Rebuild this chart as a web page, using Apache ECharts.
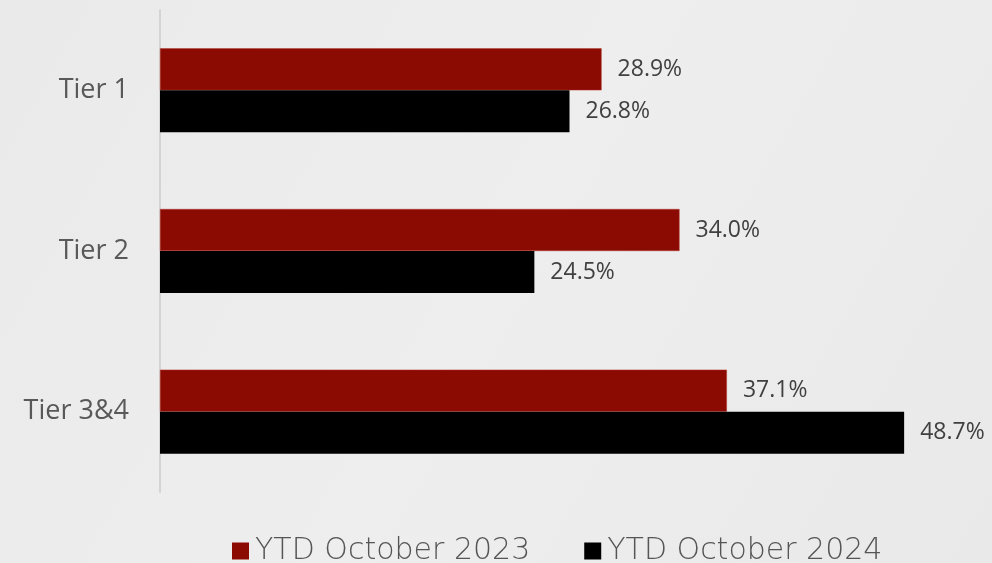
<!DOCTYPE html>
<html>
<head>
<meta charset="utf-8">
<script src="https://cdn.jsdelivr.net/npm/echarts@6/dist/echarts.min.js"></script>
<style>
html,body{margin:0;padding:0;background:#ececec;}
#chart{width:992px;height:563px;}
</style>
</head>
<body>
<div id="chart"></div>
<script>
const categories = ['Tier 1', 'Tier 2', 'Tier 3&4'];
const seriesNames = ['YTD October 2023', 'YTD October 2024'];
const values2023 = [28.9, 34.0, 37.1];
const values2024 = [26.8, 24.5, 48.7];

const chart = echarts.init(document.getElementById('chart'));
const labelStyle = {
  show: true, position: 'right', distance: 16,
  formatter: p => p.value.toFixed(1) + '%',
  fontFamily: 'Open Sans', fontSize: 23, color: '#404040'
};
chart.setOption({
  backgroundColor: {
    type: 'linear', x: 0, y: 0, x2: 1, y2: 1,
    colorStops: [{offset: 0, color: '#eaeaea'}, {offset: 0.5, color: '#eeeeee'}, {offset: 1, color: '#e9e9e9'}]
  },
  animation: false,
  grid: {left: 160, right: 68, top: 10, bottom: 71},
  xAxis: {
    type: 'value', min: 0, max: 50, show: false
  },
  yAxis: {
    type: 'category', data: categories, inverse: true,
    axisLine: {show: true, lineStyle: {color: '#d4d4d4', width: 2}},
    axisTick: {show: false},
    axisLabel: {fontFamily: 'Open Sans', fontSize: 27, color: '#595959', margin: 31}
  },
  legend: {
    top: 536, left: 232, padding: 0, itemWidth: 17, itemHeight: 17, itemGap: 54,
    icon: 'rect',
    itemStyle: {borderWidth: 0},
    textStyle: {fontFamily: 'DejaVu Sans', fontWeight: 200, fontSize: 30, color: '#555555', padding: [0, 0, 0, 1]},
    data: seriesNames
  },
  series: [
    {name: seriesNames[0], type: 'bar', data: values2023, barWidth: 42, barGap: '0%',
     itemStyle: {color: '#8b0a01', borderColor: '#b03a30', borderWidth: 0.5}, label: labelStyle},
    {name: seriesNames[1], type: 'bar', data: values2024, barWidth: 42, barGap: '0%',
     itemStyle: {color: '#000000'}, label: labelStyle}
  ]
});
</script>
</body>
</html>
